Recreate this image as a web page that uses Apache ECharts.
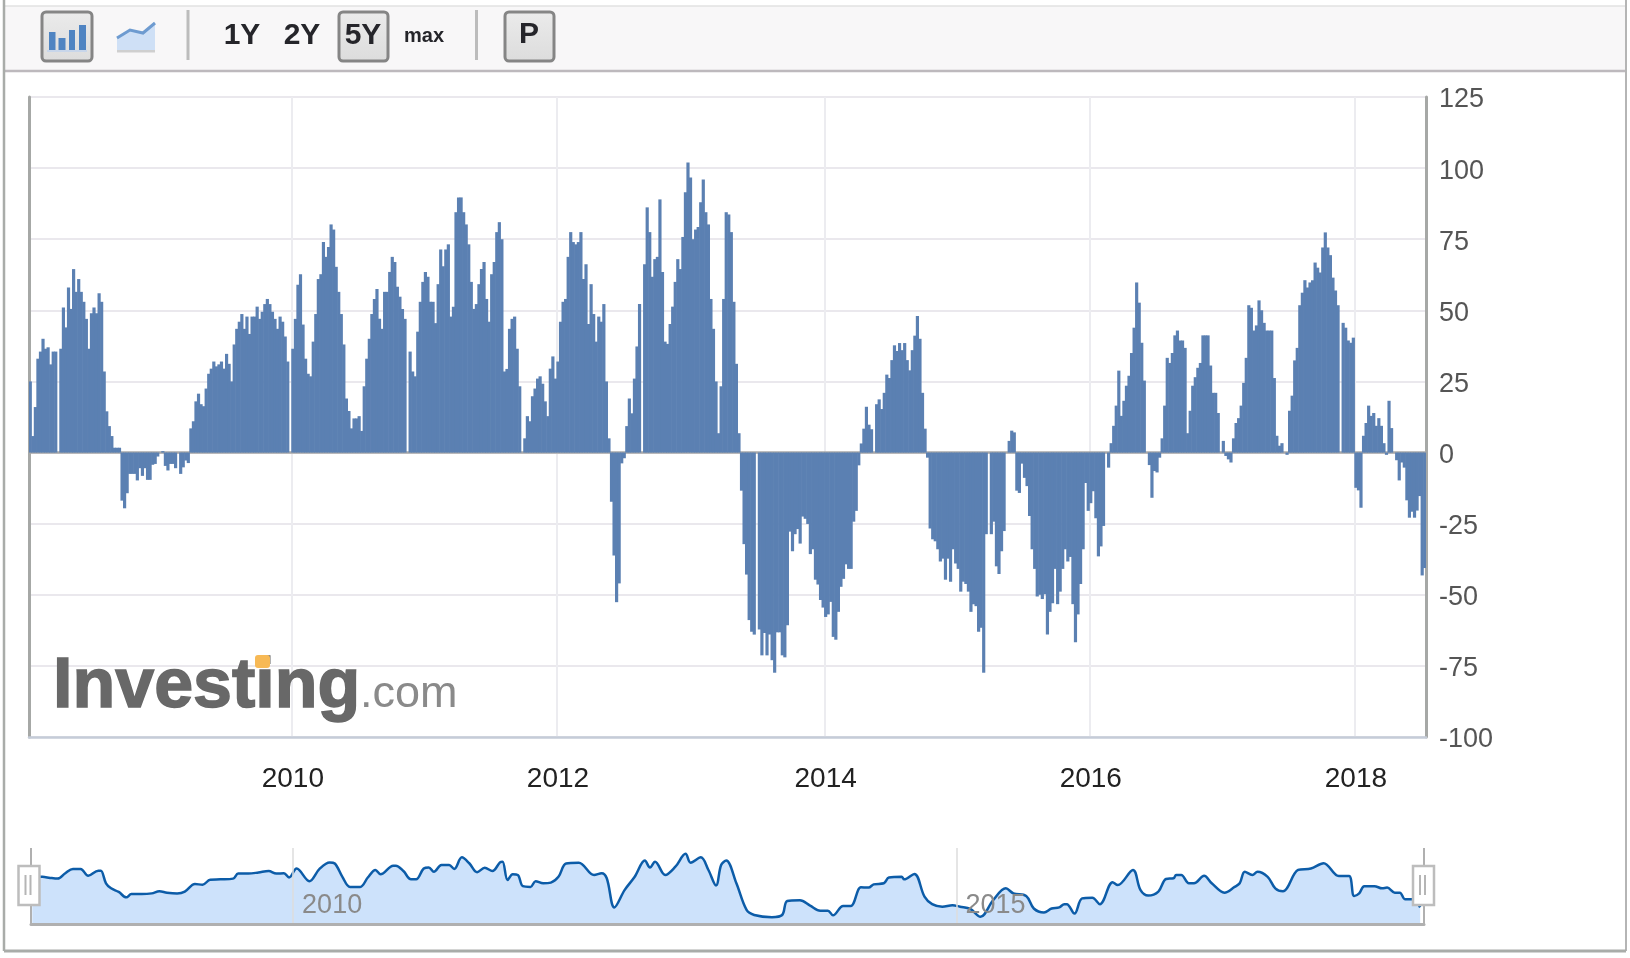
<!DOCTYPE html>
<html><head><meta charset="utf-8">
<style>html,body{margin:0;padding:0;background:#fff}#c{width:1630px;height:958px}</style>
<script src="https://cdn.jsdelivr.net/npm/echarts@6/dist/echarts.min.js"></script>
</head><body><div id="c"></div>
<script>
// Weekly values (null = missing week)
const weeklyValues = [
25,5.8,16,33,35.5,40,36.5,37,31,35.5,35.5,null,36.5,51,44,58,50.5,64.5,56.5,61,56.5,53,47,36.5,49,51,49,56,53,28.5,14.5,9.3,5.8,1.7,1.7,1.7,
-16.9,-19.6,-14.3,-7.5,-7.5,-7.5,-9.8,-5.5,-8.2,-5.5,-9.6,-9.6,-4.3,-4,-1.4,0,0.5,-4.7,-6.3,-4,-4,-5.5,null,-7.5,-5.2,-2.8,-3.7,
8.5,11,18,20.7,17,16.3,22.5,27.7,29.5,32,30.3,31,32,29.5,34.7,31.2,25,38,43.5,46,48.7,43.5,47.8,41.7,47.8,47.8,51.3,47,49.5,52.2,54,52.2,49.5,47,43.5,47.8,46,40.8,32,null,
36.5,47,59,62.7,45,33,27.7,26.8,39,48.7,61,62.7,74,68.8,72.3,80.2,78.4,65.3,56.5,48.7,38,19,14.6,8.5,12,12,12.8,7.6,23.3,33,40,48.7,54,57.5,47,43.5,56.5,56.5,63.5,68.8,67,58.3,54.8,50.5,47,null,
35.5,28.5,26.8,42.5,53,60,63.5,61.8,53,53,45.5,59.2,71.4,65.5,71.4,73.2,47.8,51.3,84.5,89.7,89.7,84.5,80.2,73.2,60,50.5,52.2,59.2,64.5,67,54,46,62.7,67,77.5,81,75,28.5,29.4,43.5,47,47.8,36.5,23.3,null,
5,12.8,11,19.8,22.5,26,26.8,24.2,18,12.8,29.5,33.8,26,32,46,53,54,68.8,77.5,74,73.2,74,77.5,61,66.2,45.2,59.2,48.7,39,47.8,46,52.2,25,5,
-17.3,-36.2,-52.6,-46,-3.8,-2,
9.3,19,13.8,26,37.3,52.2,null,
66.2,86.2,77.5,61.8,68,68.8,89,63.5,39,38.2,45.2,51.3,60,68,64.5,75.8,91.5,102,96.7,75,78.4,79.3,88,96,84.5,80.2,54,43.5,25,6.8,23.3,54,84.5,83.7,77.5,53,31.2,6.8,
-13.4,-32.2,-42.9,-58.9,-63,-64,null,
-62.2,-71.3,-63.4,-71.3,-64,-73,-77.4,-63.2,-63.2,-71.3,-72,-60.7,-27.8,-34.7,-28.7,-26.9,-32,-22.5,-23.3,-25.1,-35.7,-34,-44.7,-46.4,-51.8,-54.5,-57.8,-56.9,-52.5,-64.8,-65.8,-56,-47.2,-44.4,-39.3,-40.9,-40.9,-24.3,-20.5,-4.5,
3.2,8.4,16.1,9.8,8.2,null,17,18.7,15.3,21,27.4,26.2,32.5,37.7,35.7,38.5,36,38.5,32.5,28.9,36,41.1,48,40,21,8.4,
-1.8,-26.7,-30.5,-31.2,-34,-38.3,-37.3,-44.7,-37.3,-45.4,-34,-39,-40.9,-48.9,-45.4,-46.2,-48.9,-56,-53.3,-54,-63,-61.6,-77.4,-28.7,null,
-28.7,-24.3,-40,-42.7,-34.7,-27.6,null,4.1,7.7,7.1,
-13.4,-14.2,-3.9,-8.9,-11.8,-22.3,-34,-40.9,-50.6,-50,-51.5,-49.8,-64,-56,-53,-40.9,-53.3,-48.9,-40.9,-34,-38.3,-36.7,-53.3,-66.7,-56.9,-46.2,-34,-10.7,-20.5,-17.8,-13.6,-23.1,-36.5,-33,-25.8,null,-5.3,
3.3,9.4,16.5,28.8,12.9,18.2,23.5,27,35,43.9,59.8,52.7,38.6,25.3,null,
-4.4,-15.9,-6.5,-7,-1.8,
5,16.5,33.3,31.5,35,41.2,42.9,39.4,39.4,36.8,6.8,14.7,23.5,26.5,29.8,31.5,41.2,41.2,41.2,30.6,21,21,13.9,null,
4.1,-1.2,-2.4,-3.5,
5,10.4,12.1,16.5,24.5,33.3,51.8,50.9,42.9,44.7,53.5,50,45.6,42.9,42.9,42.9,26.2,5.9,2.4,3.3,null,-0.8,
14.7,20,32.4,36.8,51.8,56.2,60.6,58,59.8,60.6,66.8,65,63.3,72.1,77.4,72.1,69.4,61.5,57,51.8,null,
45.6,43.9,39.4,38.6,40.4,-12.4,-13.3,-19.4,
5.9,10.4,16.5,12.9,13.9,9.4,12.1,9.4,3.3,-0.8,18.2,8.6,null,
-2.7,-9.8,-3.5,-5.3,-16.8,-22.9,-20.8,-22.9,-20.4,-15.3,-43.2,-40.6
];
// Overview strip: week number and value of each readable point
const navWeeks = [0,4,7,10,13,16,19,22,26,27,29,31,34,37,39,43,47,50,53,57,60,64,67,70,74,79,81,85,89,93,96,99,101,104,109,113,117,119,122,125,129,132,135,137,142,143,146,149,151,154,156,158,161,164,166,169,172,175,178,181,184,185,187,189,191,193,196,198,201,204,207,210,215,221,224,226,229,233,237,241,243,245,249,253,257,259,263,266,269,271,273,277,281,284,291,295,297,302,306,310,313,315,319,322,326,329,331,335,337,342,343,347,351,354,358,362,365,369,373,378,383,386,391,394,398,401,404,406,407,410,413,417,420,425,427,433,436,439,443,446,449,450,452,455,457,461,464,469,473,475,477,480,482,486,489,492,498,503,508,514,518,520,522,524,528,531,533,536,538,540,543,546];
const navValues = [34,34,31,29,44,56,56,37,51,51,16,2,-8,-23,-14,-14,-12,-6,-10,-12,-7,14,12,26,27,29,43,43,46,50,43,44,32,57,22,56,74,71,34,6,6,32,53,41,65,65,50,27,27,57,60,48,67,67,56,88,71,47,59,50,74,76,25,41,39,8,6,22,16,18,34,71,73,39,44,30,-51,-3,34,79,60,76,39,62,98,73,88,53,10,67,79,16,-58,-72,-78,-72,-33,-31,-46,-60,-60,-73,-47,-47,5,4,13,16,32,34,27,42,-21,-42,-49,-45,-49,-55,-77,-31,2,-12,-19,-54,-65,-54,-51,-42,-42,-68,-26,-24,-42,19,11,53,-3,-18,-7,28,30,39,39,16,16,37,16,-10,6,16,48,39,48,34,2,-6,53,57,72,36,36,-19,-12,8,8,2,4,-10,-10,-28,-28,-51];
const yMin = -100, yMax = 125, yStep = 25;
const mainTickYears = [2010,2012,2014,2016,2018];
const navTickYears = [2010,2015];
const firstWeek = Date.UTC(2008,0,15);
const weeks = weeklyValues.map((_,i)=>new Date(firstWeek+i*7*864e5).toISOString().slice(0,10));
function yearStarts(years){const s=new Set();years.forEach(y=>{const i=weeks.findIndex(w=>w.startsWith(y+'-'));if(i>=0)s.add(i);});return s;}
const mainTicks=yearStarts(mainTickYears), navTicks=yearStarts(navTickYears);
const F='"Liberation Sans",Arial,sans-serif';
const navData = navWeeks.map((w,i)=>[w,navValues[i]]);

function rect(x,y,w,h,fill,extra){return Object.assign({type:'rect',shape:{x,y,width:w,height:h},style:{fill},silent:true},extra||{});}
function line(x1,y1,x2,y2,stroke,lw,z){return {type:'line',shape:{x1,y1,x2,y2},style:{stroke,lineWidth:lw},silent:true,z:z||1};}
function text(t,x,y,size,weight,fill,align,z,extra){return {type:'text',x,y,style:Object.assign({text:t,font:weight+' '+size+'px '+F,fill,align:align||'center',verticalAlign:'middle'},extra||{}),silent:true,z:z||3};}
function button(x,y,w,h){return {type:'rect',shape:{x,y,width:w,height:h,r:4},style:{fill:{type:'linear',x:0,y:0,x2:0,y2:1,colorStops:[{offset:0,color:'#ebebeb'},{offset:1,color:'#dcdcdc'}]},stroke:'#858585',lineWidth:3},silent:true,z:2};}
function handle(x,lx1,lx2){return [
  {type:'rect',shape:{x,y:866,width:21,height:39},style:{fill:'#fff',stroke:'#bdbdbd',lineWidth:2.5},silent:true,z:50},
  line(lx1,875,lx1,895,'#b5b5b5',2,51),line(lx2,875,lx2,895,'#b5b5b5',2,51)];}

const graphics=[
  rect(4,6,1622,65,'#f8f7f8',{z:0}),
  line(4,6,1626,6,'#e2e2e2',1.5),
  line(4,71,1626,71,'#bdb9bd',2.5),
  line(4,0,4,951,'#a9aca9',2.5),
  line(1626,0,1626,951,'#b5b5b5',2),
  line(4,951,1626,951,'#a9aca9',3),
  button(42,12,50,49),
  rect(49,32,6.5,18,'#4f84c2',{z:3}),rect(58.5,38,7,12,'#4f84c2',{z:3}),rect(69,30,6,20,'#4f84c2',{z:3}),rect(79,25,7,25,'#4f84c2',{z:3}),rect(47,50,40,2,'#c8d6ea',{z:3}),
  {type:'polygon',shape:{points:[[117,38],[130,30],[143,33],[155,23],[155,51],[117,51]]},style:{fill:'#cfe0f6'},silent:true,z:3},
  {type:'polyline',shape:{points:[[117,38],[130,30],[143,33],[155,23]]},style:{stroke:'#6e9bd0',lineWidth:3,fill:'none'},silent:true,z:3},
  rect(117,50,38,2.5,'#cfcfcf',{z:3}),
  line(188,10,188,60,'#bcbcbc',3,2),
  text('1Y',242,36,30,'bold','#25252a'),
  text('2Y',302,36,30,'bold','#25252a'),
  button(339,12,49,49),
  text('5Y',363,36,30,'bold','#25252a'),
  text('max',424,36,20,'bold','#25252a'),
  line(476.5,10,476.5,60,'#bcbcbc',3,2),
  button(505,12,49,49),
  text('P',529,35,30,'bold','#25252a'),
  text('Investing',53,688,70,'bold','#686868','left',1,{stroke:'#686868',lineWidth:1.5}),
  text('.com',360,695,45,'normal','#8a8a8a','left',1),
  {type:'rect',shape:{x:255,y:655,width:15,height:13,r:3},style:{fill:'#f7b955'},silent:true,z:2},
  line(31,848,31,924,'#b0b0b0',2,6),
  line(1424,848,1424,924,'#b0b0b0',2,6),
  ...handle(18.5,25.5,30.5),
  ...handle(1413,1420,1425)
];

const chart=echarts.init(document.getElementById('c'),null,{renderer:'canvas'});
chart.setOption({
  animation:false,
  backgroundColor:'#fff',
  graphic:{elements:graphics},
  grid:[
    {left:29,right:204,top:97,bottom:221},
    {left:31,right:206,top:848,bottom:34}
  ],
  xAxis:[
    {type:'category',gridIndex:0,data:weeks,boundaryGap:true,
      axisLine:{onZero:false,lineStyle:{color:'#c5ccd8',width:2.5}},axisTick:{show:false},
      axisLabel:{interval:(i)=>mainTicks.has(i),formatter:v=>v.slice(0,4),color:'#222',fontSize:28,fontFamily:F,margin:28},
      splitLine:{show:true,interval:(i)=>mainTicks.has(i),lineStyle:{color:'#ececf0',width:2}}},
    {type:'category',gridIndex:1,data:weeks,boundaryGap:true,z:5,
      axisLine:{onZero:false,lineStyle:{color:'#b0b0b0',width:3}},axisTick:{show:false},
      axisLabel:{inside:true,interval:(i)=>navTicks.has(i),formatter:v=>v.slice(0,4),color:'#8a8a8a',fontSize:27,fontFamily:F,margin:5,align:'left',padding:[0,0,0,8]},
      splitLine:{show:true,interval:(i)=>navTicks.has(i),lineStyle:{color:'#dcdcdc',width:1.5}}}
  ],
  yAxis:[
    {type:'value',gridIndex:0,position:'right',min:yMin,max:yMax,interval:yStep,
      axisLine:{show:true,onZero:false,lineStyle:{color:'#a6a8a6',width:3}},axisTick:{show:false},
      axisLabel:{color:'#555',fontSize:27,fontFamily:F,margin:13,verticalAlign:'top',lineHeight:6},
      splitLine:{show:true,lineStyle:{color:'#eae8ed',width:2}}},
    {type:'value',gridIndex:0,position:'left',min:yMin,max:yMax,interval:yStep,
      axisLine:{show:true,onZero:false,lineStyle:{color:'#a6a8a6',width:3}},axisTick:{show:false},
      axisLabel:{show:false},splitLine:{show:false}},
    {type:'value',gridIndex:1,min:-97,max:114,show:false,splitLine:{show:false}}
  ],
  series:[
    {type:'bar',xAxisIndex:0,yAxisIndex:0,data:weeklyValues,barWidth:'125%',barGap:'0%',z:3,
      itemStyle:{color:'#5b80b2'},
      markLine:{silent:true,symbol:'none',z:1,label:{show:false},data:[{yAxis:0}],lineStyle:{color:'#a8a8a8',width:2.5,type:'solid'}}},
    {type:'line',xAxisIndex:1,yAxisIndex:2,data:navData,smooth:0.35,symbol:'none',z:3,
      lineStyle:{color:'#0c5ca8',width:2.5},areaStyle:{color:'#cde2fb',opacity:1,origin:'start'}}
  ]
});
</script></body></html>
